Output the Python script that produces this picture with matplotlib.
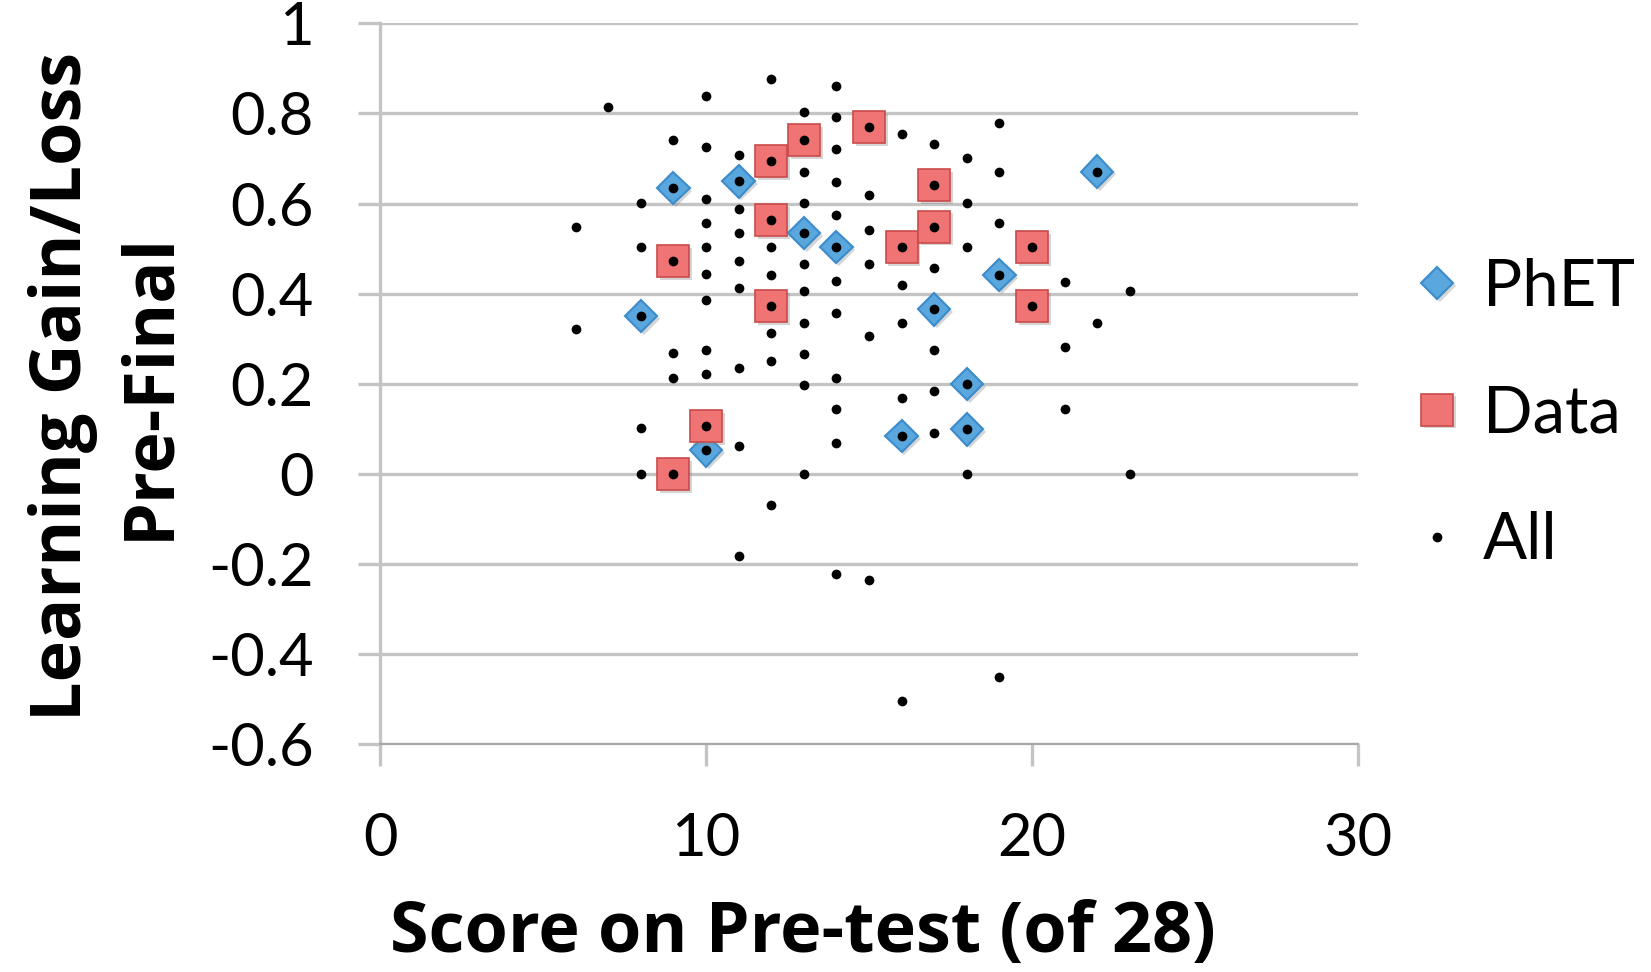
import matplotlib
matplotlib.use("Agg")
import matplotlib.pyplot as plt
from matplotlib import patheffects as pe

plt.rcParams['font.family'] = ['Lato', 'DejaVu Sans']
plt.rcParams['axes.unicode_minus'] = False

# PhET group
phet_x = [8, 9, 10, 11, 13, 14, 16, 17, 18, 18, 19, 22]
phet_y = [0.35, 0.634, 0.052, 0.649, 0.535, 0.503, 0.084, 0.365, 0.199, 0.099, 0.442, 0.671]

# Data group
data_x = [9, 9, 10, 12, 12, 12, 13, 15, 16, 17, 17, 20, 20]
data_y = [0.473, 0.0, 0.106, 0.694, 0.564, 0.373, 0.740, 0.770, 0.503, 0.641, 0.549, 0.503, 0.373]

# remaining students (part of "All")
other_x = [6, 6, 7,
           8, 8, 8, 8,
           9, 9, 9,
           10, 10, 10, 10, 10, 10, 10, 10, 10,
           11, 11, 11, 11, 11, 11, 11, 11,
           12, 12, 12, 12, 12, 12,
           13, 13, 13, 13, 13, 13, 13, 13, 13,
           14, 14, 14, 14, 14, 14, 14, 14, 14, 14, 14,
           15, 15, 15, 15, 15,
           16, 16, 16, 16, 16,
           17, 17, 17, 17, 17,
           18, 18, 18, 18,
           19, 19, 19, 19,
           21, 21, 21,
           22,
           23, 23]
other_y = [0.549, 0.321, 0.815,
           0.602, 0.503, 0.101, 0.0,
           0.740, 0.268, 0.212,
           0.839, 0.725, 0.610, 0.557, 0.503, 0.444, 0.387, 0.274, 0.222,
           0.708, 0.587, 0.535, 0.473, 0.412, 0.236, 0.062, -0.183,
           0.876, 0.503, 0.441, 0.313, 0.251, -0.069,
           0.803, 0.671, 0.602, 0.466, 0.406, 0.336, 0.267, 0.198, 0.0,
           0.861, 0.793, 0.722, 0.647, 0.574, 0.429, 0.358, 0.212, 0.145, 0.068, -0.221,
           0.619, 0.542, 0.466, 0.306, -0.236,
           0.755, 0.419, 0.336, 0.168, -0.503,
           0.732, 0.457, 0.274, 0.184, 0.091,
           0.702, 0.602, 0.503, 0.0,
           0.778, 0.671, 0.557, -0.450,
           0.427, 0.281, 0.144,
           0.336,
           0.405, 0.0]

all_x = other_x + phet_x + data_x
all_y = other_y + phet_y + data_y

x_ticks = [0, 10, 20, 30]
y_ticks = [-0.6, -0.4, -0.2, 0, 0.2, 0.4, 0.6, 0.8, 1]
y_tick_labels = ["-0.6", "-0.4", "-0.2", "0", "0.2", "0.4", "0.6", "0.8", "1"]

fig = plt.figure(figsize=(16.51, 9.72), dpi=100)
ax = fig.add_axes([380/1651, 1-744.3/972, (1358-380)/1651, (744.3-23.3)/972])

grid_c = '#c4c4c4'
shadow = [pe.SimplePatchShadow(offset=(2, -2), shadow_rgbFace='#888888', alpha=0.35), pe.Normal()]

ax.plot(phet_x, phet_y, linestyle='none', marker='D', markersize=16.5,
        markerfacecolor='#5aa7de', markeredgecolor='#3b8ccc', markeredgewidth=1.5,
        label='PhET', zorder=3, path_effects=shadow)
ax.plot(data_x, data_y, linestyle='none', marker='s', markersize=23,
        markerfacecolor='#f07474', markeredgecolor='#c94a4a', markeredgewidth=1.2,
        label='Data', zorder=4, path_effects=shadow)
ax.plot(all_x, all_y, linestyle='none', marker='o', markersize=7,
        markerfacecolor='black', markeredgecolor='black', markeredgewidth=0,
        label='All', zorder=5)

ax.set_xlim(0, 30)
ax.set_ylim(-0.6, 1)
ax.set_xticks(x_ticks)
ax.set_xticklabels([str(v) for v in x_ticks])
ax.set_yticks(y_ticks)
ax.set_yticklabels(y_tick_labels)

ax.grid(axis='y', color=grid_c, linewidth=2.4, zorder=0)
ax.set_axisbelow(True)
for s in ['top', 'right']:
    ax.spines[s].set_visible(False)
ax.spines['left'].set_color(grid_c)
ax.spines['left'].set_linewidth(2.4)
ax.spines['bottom'].set_color('#a8a8a8')
ax.spines['bottom'].set_linewidth(1.6)

ax.tick_params(axis='y', direction='out', length=15.8, width=2.4, color=grid_c,
               pad=32, labelsize=43)
ax.tick_params(axis='x', direction='out', length=15.8, width=2.4, color=grid_c,
               pad=33, labelsize=43)

label_font = dict(family=['Open Sans', 'DejaVu Sans'], fontweight='bold', fontsize=50.5)
fig.text(803/1651, 1-934/972, 'Score on Pre-test (of 28)', ha='center', va='center',
         **label_font)
fig.text(107/1651, 1-386/972, 'Learning Gain/Loss\nPre-Final', rotation=90,
         ha='center', va='center', ma='center', linespacing=1.33, **label_font)

leg = ax.legend(loc='center left', bbox_to_anchor=(1411/1651, 1-414/972),
                bbox_transform=fig.transFigure, frameon=False, fontsize=47,
                handlelength=0.8, handletextpad=0.3, borderpad=0, borderaxespad=0,
                labelspacing=1.04, numpoints=1)

fig.savefig('out.png', dpi=100)
